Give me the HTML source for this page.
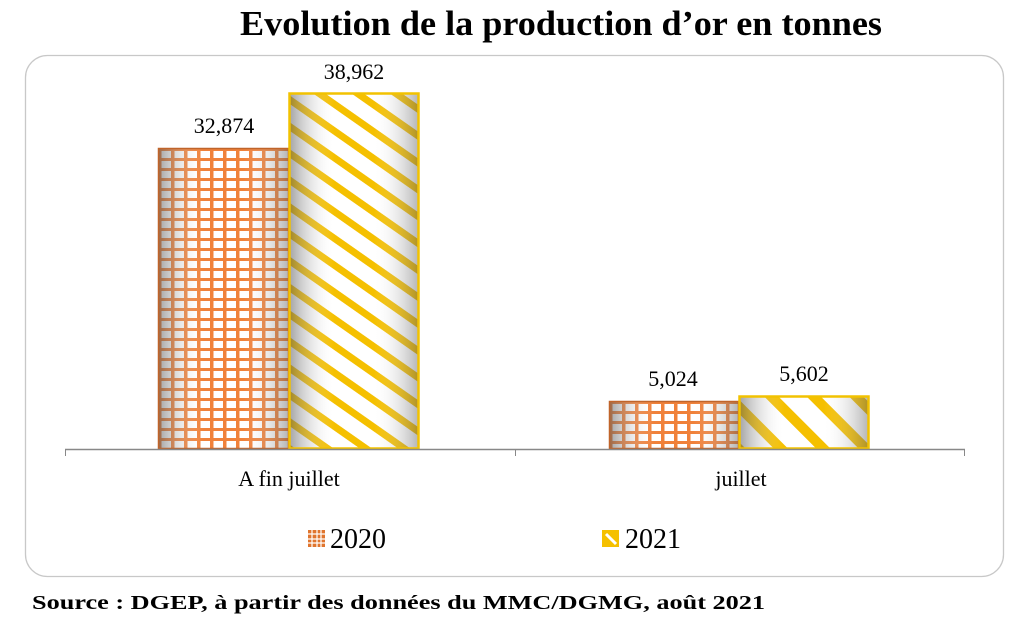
<!DOCTYPE html>
<html><head><meta charset="utf-8"><style>
body{margin:0;background:#fff;width:1024px;height:620px;overflow:hidden}
svg{display:block}
text{font-family:"Liberation Serif",serif}
</style></head><body>
<svg width="1024" height="620" viewBox="0 0 1024 620">
<defs>
<pattern id="grid" width="13" height="10" patternUnits="userSpaceOnUse" x="158" y="148">
<rect width="13" height="10" fill="#fff"/>
<rect x="0" y="0" width="3.5" height="10" fill="#f0813a"/>
<rect x="0" y="0" width="13" height="3" fill="#f0813a"/>
</pattern>
<pattern id="grid2" width="13" height="10" patternUnits="userSpaceOnUse" x="609" y="401">
<rect width="13" height="10" fill="#fff"/>
<rect x="0" y="0" width="3.5" height="10" fill="#f0813a"/>
<rect x="0" y="0" width="13" height="3" fill="#f0813a"/>
</pattern>
<pattern id="stripe" width="22" height="22" patternUnits="userSpaceOnUse" patternTransform="rotate(35)">
<rect width="22" height="22" fill="#fff"/>
<rect width="22" height="7" fill="#f5c000"/>
</pattern>
<pattern id="stripe2" width="30" height="30" patternUnits="userSpaceOnUse" patternTransform="rotate(45)">
<rect width="30" height="30" fill="#fff"/>
<rect width="30" height="10" fill="#f5c000"/>
</pattern>
<linearGradient id="cyl" x1="0" x2="1" y1="0" y2="0">
<stop offset="0" stop-color="#555" stop-opacity="0.55"/>
<stop offset="0.35" stop-color="#fff" stop-opacity="0"/>
<stop offset="0.65" stop-color="#fff" stop-opacity="0"/>
<stop offset="1" stop-color="#555" stop-opacity="0.45"/>
</linearGradient>
</defs>
<text x="240" y="35" font-size="35" font-weight="bold" textLength="642" lengthAdjust="spacingAndGlyphs">Evolution de la production d’or en tonnes</text>
<rect x="25.5" y="55.5" width="978" height="521" rx="22" fill="#fff" stroke="#c8c8c8" stroke-width="1.3"/>
<rect x="158" y="148" width="131" height="301" fill="url(#grid)"/>
<rect x="158" y="148" width="131" height="301" fill="url(#cyl)"/>
<rect x="158.5" y="148.5" width="130" height="300" fill="none" stroke="#c0642a" stroke-width="1.5"/>
<rect x="289" y="93" width="130" height="356" fill="url(#stripe)"/>
<rect x="289" y="93" width="130" height="356" fill="url(#cyl)"/>
<rect x="289.5" y="93.5" width="129" height="355" fill="none" stroke="#f2c200" stroke-width="2.5"/>
<rect x="609" y="401" width="130" height="48" fill="url(#grid2)"/>
<rect x="609" y="401" width="130" height="48" fill="url(#cyl)"/>
<rect x="609.5" y="401.5" width="129" height="47" fill="none" stroke="#c0642a" stroke-width="1.5"/>
<rect x="739" y="396" width="130" height="53" fill="url(#stripe2)"/>
<rect x="739" y="396" width="130" height="53" fill="url(#cyl)"/>
<rect x="739.5" y="396.5" width="129" height="52" fill="none" stroke="#f2c200" stroke-width="2.5"/>
<line x1="65" y1="449.5" x2="965" y2="449.5" stroke="#888" stroke-width="1.5"/>
<line x1="65.5" y1="449" x2="65.5" y2="456" stroke="#888"/>
<line x1="515.5" y1="449" x2="515.5" y2="456" stroke="#888"/>
<line x1="964.5" y1="449" x2="964.5" y2="456" stroke="#888"/>
<g font-size="22" text-anchor="middle">
<text x="224" y="133">32,874</text>
<text x="354" y="79">38,962</text>
<text x="673" y="386">5,024</text>
<text x="804" y="381">5,602</text>
<text x="289" y="486">A fin juillet</text>
<text x="741" y="486">juillet</text>
</g>
<rect x="308" y="530" width="17" height="17" fill="#e0752e"/>
<path d="M312 530v17M317 530v17M321 530v17M308 534h17M308 539h17M308 543h17" stroke="#fff" stroke-width="1.2"/>
<text x="330" y="548" font-size="28">2020</text>
<rect x="602" y="530" width="17" height="17" fill="#f5c000"/>
<path d="M606 534l10 10" stroke="#fff" stroke-width="3"/>
<text x="625" y="548" font-size="28">2021</text>
<text x="32" y="609" font-size="20" font-weight="bold" textLength="733" lengthAdjust="spacingAndGlyphs">Source : DGEP, à partir des données du MMC/DGMG, août 2021</text>
</svg>
</body></html>
